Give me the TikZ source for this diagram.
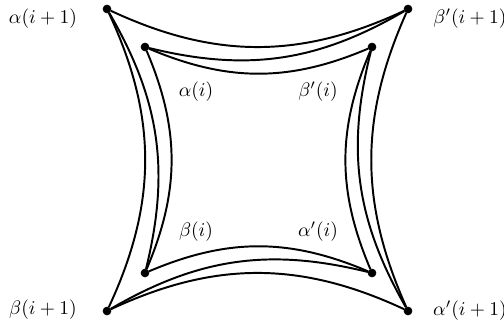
\documentclass[tikz,border=0pt]{standalone}
\usepackage{tikz}
\usetikzlibrary{positioning}
\tikzstyle{pt}=[circle,fill=black,draw=black,inner sep=0pt,minimum size=4pt]
\tikzstyle{lab}=[inner sep=0pt]
\tikzstyle{arc}=[line width=1pt]

\begin{document}
\begin{tikzpicture}[x=0.018cm,y=-0.018cm]
\useasboundingbox (0,0) rectangle (504,322);
% outer corners
\node[pt] (a1) at (107,9) {};
\node[pt] (bp1) at (408,9) {};
\node[pt] (b1) at (107,311) {};
\node[pt] (ap1) at (408,311) {};
% inner corners
\node[pt] (a) at (145,47) {};
\node[pt] (bp) at (372,47) {};
\node[pt] (b) at (145,273) {};
\node[pt] (ap) at (372,273) {};
% labels
\node[lab] (la1) at (43,19) {$\alpha(i+1)$};
\node[lab] (lbp1) at (470,19) {$\beta'(i+1)$};
\node[lab] (lb1) at (43,310) {$\beta(i+1)$};
\node[lab] (lap1) at (470,311) {$\alpha'(i+1)$};
\node[lab] (la) at (196,92) {$\alpha(i)$};
\node[lab] (lbp) at (318,92) {$\beta'(i)$};
\node[lab] (lb) at (196,232) {$\beta(i)$};
\node[lab] (lap) at (318,232) {$\alpha'(i)$};
% top
\draw[arc] (a1) to[bend right=25] (bp1);
\draw[arc] (a) to[bend right=22] (bp1);
\draw[arc] (a) to[bend right=23] (bp);
% right
\draw[arc] (bp1) to[bend right=24] (ap1);
\draw[arc] (bp) to[bend right=22] (ap1);
\draw[arc] (bp) to[bend right=23] (ap);
% bottom
\draw[arc] (ap1) to[bend right=25] (b1);
\draw[arc] (ap) to[bend right=22] (b1);
\draw[arc] (ap) to[bend right=23] (b);
% left
\draw[arc] (b1) to[bend right=25] (a1);
\draw[arc] (b) to[bend right=22] (a1);
\draw[arc] (b) to[bend right=23] (a);
\end{tikzpicture}
\end{document}
